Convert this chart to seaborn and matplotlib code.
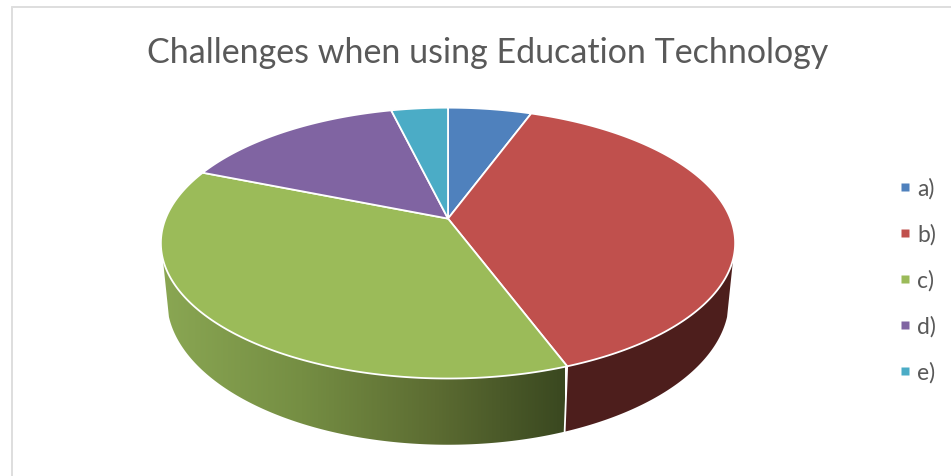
import numpy as np
import matplotlib
matplotlib.use("Agg")
import matplotlib.pyplot as plt
from matplotlib.colors import LinearSegmentedColormap
from matplotlib.lines import Line2D
from matplotlib.patches import Polygon
import seaborn as sns

TITLE = "Challenges when using Education Technology"
categories = ["a)", "b)", "c)", "d)", "e)"]
shares = [5.6, 38.7, 36.8, 15.1, 3.8]
slice_colors = ["#4f81bd", "#c0504d", "#9bbb59", "#8064a2", "#4bacc6"]

sns.set_style("white")
plt.rcParams["font.family"] = ["Lato", "DejaVu Sans"]
palette = sns.color_palette(slice_colors)

fig = plt.figure(figsize=(9.51, 4.77), dpi=100, facecolor="white")
ax = fig.add_axes([0, 0, 1, 1])
ax.set_xlim(0, 951)
ax.set_ylim(477, 0)
ax.axis("off")

# Perspective projection of the pie disc; near edge is drawn larger than far edge.
TILT = 0.1808
HUB_X = 448
HUB_Y = 219.6


def top_rim(theta):
    u, v = np.sin(theta), np.cos(theta)
    d = 1 + TILT * v
    return HUB_X + 282.4 * u / d, HUB_Y - 131 * v / d


def bottom_rim(theta):
    u, v = np.sin(theta), np.cos(theta)
    d = 1 + TILT * v
    return HUB_X + 276.4 * u / d, 274.6 - 140.2 * v / d


def arc(start, stop, n=160):
    return np.linspace(start, stop, max(n, 2))


def side_outline(start, stop):
    t = arc(start, stop)
    x1, y1 = top_rim(t)
    x2, y2 = bottom_rim(t)
    return np.column_stack([np.r_[x1, x2[::-1]], np.r_[y1, y2[::-1]]])


edges = np.r_[0, np.cumsum(shares)] / np.sum(shares) * 2 * np.pi
SIDE_START, SIDE_STOP = np.radians(107), np.radians(253)

# Rim of the disc: only the slices that face the viewer show a side wall.
red_start, red_stop = SIDE_START, edges[2]
green_start, green_stop = edges[2], SIDE_STOP

ax.add_patch(Polygon(side_outline(red_start, red_stop), closed=True,
                     facecolor="#4d1e1c", edgecolor="none", zorder=1))

green_side = Polygon(side_outline(green_start, green_stop), closed=True,
                     facecolor="none", edgecolor="none", zorder=1)
ax.add_patch(green_side)
shade = LinearSegmentedColormap.from_list(
    "rim", [(0, "#8aa753"), (0.35, "#758e43"), (0.68, "#5c6c32"), (1, "#3a4820")])
img = ax.imshow(np.linspace(0, 1, 512)[None, :], cmap=shade, aspect="auto",
                extent=(160, 565, 450, 250), zorder=1)
img.set_clip_path(green_side)
ax.set_xlim(0, 951)
ax.set_ylim(477, 0)

# White seam between the two side walls.
xa, ya = top_rim(edges[2])
xb, yb = bottom_rim(edges[2])
ax.plot([xa, xb], [ya, yb], color="white", lw=1.3, zorder=2)

# Top face of the disc.
for start, stop, color in zip(edges[:-1], edges[1:], palette):
    t = arc(start, stop)
    x, y = top_rim(t)
    ax.fill(np.r_[HUB_X, x], np.r_[HUB_Y, y], facecolor=color,
            edgecolor="white", linewidth=1.3, joinstyle="round", zorder=3)

ax.text(487.5, 53, TITLE, ha="center", va="center", fontsize=24.5, color="#595959")

handles = [Line2D([], [], linestyle="none", marker="s", markersize=6.2,
                  markerfacecolor=c, markeredgecolor="none", label=lab)
           for c, lab in zip(palette, categories)]
ax.legend(handles=handles, loc="center left", bbox_to_anchor=(896 / 951, 1 - 281 / 477),
          frameon=False, fontsize=16.5, labelcolor="#595959", handlelength=0.8,
          handletextpad=0.12, labelspacing=1.065, borderpad=0, borderaxespad=0)

# Thin border of the chart area.
ax.plot([11.5, 951], [7.5, 7.5], color="#dedede", lw=1.4, zorder=0, clip_on=False)
ax.plot([11.5, 11.5], [7.5, 477], color="#dedede", lw=1.4, zorder=0, clip_on=False)

fig.savefig("out.png", dpi=100, facecolor="white")
